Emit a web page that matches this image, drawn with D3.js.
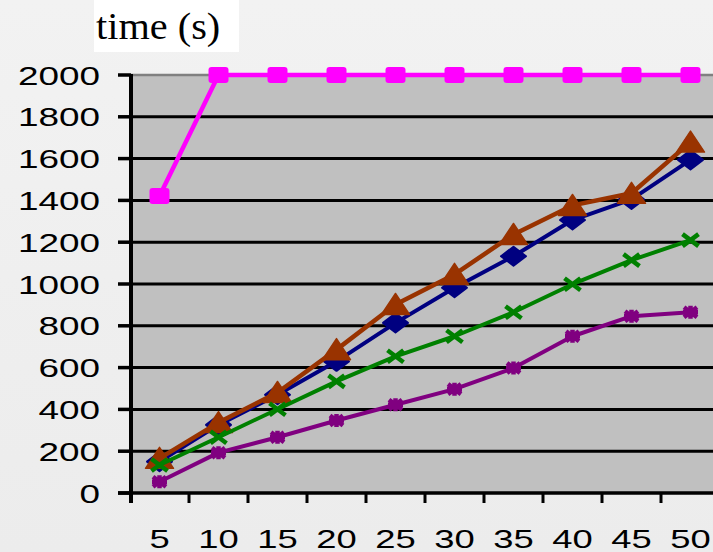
<!DOCTYPE html>
<html>
<head>
<meta charset="utf-8">
<script src="https://cdn.jsdelivr.net/npm/d3@7"></script>
<style>
  html, body { margin: 0; padding: 0; background: #f0f0f0; }
  svg { display: block; }
</style>
</head>
<body>
<svg id="chart" width="713" height="552"></svg>
<script>
// ---- data ----
const categories = [5, 10, 15, 20, 25, 30, 35, 40, 45, 50];
const yTicks = [0, 200, 400, 600, 800, 1000, 1200, 1400, 1600, 1800, 2000];
const titleText = "time (s)";
const seriesBlue   = [150, 326, 470, 630, 814, 982, 1133, 1306, 1405, 1594];
const seriesBrown  = [166, 337, 481, 686, 902, 1046, 1237, 1376, 1434, 1679];
const seriesGreen  = [134, 267, 401, 534, 654, 750, 865, 999, 1114, 1210];
const seriesPurple = [54, 193, 267, 347, 422, 497, 598, 750, 846, 865];
const seriesPink   = [1421, 2000, 2000, 2000, 2000, 2000, 2000, 2000, 2000, 2000];

(function () {
const svg = d3.select("#chart");
const W = 713, H = 552;

const defs = svg.append("defs");
const lg = defs.append("linearGradient").attr("id", "bg").attr("x1", 0).attr("y1", 0).attr("x2", 0).attr("y2", 1);
lg.append("stop").attr("offset", "0%").attr("stop-color", "#f2f2f2");
lg.append("stop").attr("offset", "100%").attr("stop-color", "#ececec");
svg.append("rect").attr("width", W).attr("height", H).attr("fill", "url(#bg)");

const pLeft = 131, pTop = 75, pBottom = 493;
const x = d3.scaleBand().domain(categories).range([130, 720]).padding(0);
const y = d3.scaleLinear().domain([0, 2000]).range([pBottom, pTop]);

svg.append("rect").attr("x", pLeft).attr("y", pTop).attr("width", W - pLeft).attr("height", pBottom - pTop).attr("fill", "#c0c0c0");

svg.append("g").selectAll("line").data(yTicks.filter(d => d > 0 && d < 2000)).join("line")
  .attr("x1", pLeft).attr("x2", W).attr("y1", d => y(d)).attr("y2", d => y(d))
  .attr("stroke", "#000").attr("stroke-width", 3);
svg.append("line").attr("x1", pLeft).attr("x2", W).attr("y1", y(2000)).attr("y2", y(2000))
  .attr("stroke", "#808080").attr("stroke-width", 2.5);

svg.append("line").attr("x1", 118).attr("x2", W).attr("y1", y(0)).attr("y2", y(0))
  .attr("stroke", "#000").attr("stroke-width", 3.5);
svg.append("g").selectAll("line").data(categories.slice(1)).join("line")
  .attr("x1", d => x(d)).attr("x2", d => x(d)).attr("y1", y(0)).attr("y2", y(0) + 10)
  .attr("stroke", "#000").attr("stroke-width", 3);

svg.append("line").attr("x1", pLeft).attr("x2", pLeft).attr("y1", y(2000) - 1).attr("y2", y(0) + 10)
  .attr("stroke", "#000").attr("stroke-width", 4);
svg.append("g").selectAll("line").data(yTicks).join("line")
  .attr("x1", 118).attr("x2", pLeft).attr("y1", d => y(d)).attr("y2", d => y(d))
  .attr("stroke", "#000").attr("stroke-width", 3.5);

svg.append("g").selectAll("text").data(yTicks).join("text")
  .attr("transform", d => `translate(100,${y(d) + 9.5}) scale(1.42,1)`)
  .attr("text-anchor", "end")
  .style("font-family", "'Liberation Sans', Arial, sans-serif")
  .style("font-size", "26px")
  .attr("fill", "#000")
  .text(d => d);

svg.append("g").selectAll("text").data(categories).join("text")
  .attr("transform", d => `translate(${x(d) + x.bandwidth() / 2},547.5) scale(1.4,1)`)
  .attr("text-anchor", "middle")
  .style("font-family", "'Liberation Sans', Arial, sans-serif")
  .style("font-size", "26px")
  .attr("fill", "#000")
  .text(d => d);

svg.append("rect").attr("x", 94).attr("y", 0).attr("width", 145).attr("height", 52).attr("fill", "#fff");
svg.append("text")
  .attr("transform", "translate(96,39) scale(1.12,1.05)")
  .style("font-family", "'Liberation Serif', 'Times New Roman', serif")
  .style("font-size", "36px")
  .attr("fill", "#000")
  .text(titleText);

const cx = (d, i) => x(categories[i]) + x.bandwidth() / 2;
const line = d3.line().x((d, i) => cx(d, i)).y(d => y(d));

function drawSeries(values, color, width, marker) {
  const g = svg.append("g");
  g.append("path").datum(values).attr("d", line)
    .attr("fill", "none").attr("stroke", color).attr("stroke-width", width)
    .attr("stroke-linejoin", "round");
  const m = g.selectAll("g.m").data(values).join("g")
    .attr("transform", (d, i) => `translate(${cx(d, i)},${y(d)})`);
  marker(m, color);
}

const diamond = (m, c) => m.append("path").attr("d", "M0,-9.5 L12.5,0 L0,9.5 L-12.5,0 Z")
  .attr("fill", c).attr("stroke", c).attr("stroke-width", 2).attr("stroke-linejoin", "round");
const triangle = (m, c) => m.append("path").attr("d", "M0,-11 L14,10 L-14,10 Z")
  .attr("fill", c).attr("stroke", c).attr("stroke-width", 1.5).attr("stroke-linejoin", "round");
const square = (m, c) => m.append("rect").attr("x", -10).attr("y", -8).attr("width", 20).attr("height", 16)
  .attr("rx", 3).attr("fill", c);
const cross = (m, c) => m.append("path").attr("d", "M-8,-6 L8,6 M-8,6 L8,-6")
  .attr("stroke", c).attr("stroke-width", 4.5).attr("fill", "none");
const star = (m, c) => m.append("path").attr("d", "M-6.5,-5 L6.5,5 M-6.5,5 L6.5,-5 M0,-6.5 L0,6.5 M-7.5,0 L7.5,0")
  .attr("stroke", c).attr("stroke-width", 4.5).attr("fill", "none");

drawSeries(seriesBlue, "#000080", 4, diamond);
drawSeries(seriesBrown, "#993300", 4.5, triangle);
drawSeries(seriesGreen, "#008000", 4, cross);
drawSeries(seriesPurple, "#800080", 4, star);
drawSeries(seriesPink, "#ff00ff", 4.5, square);
})();
</script>
</body>
</html>
